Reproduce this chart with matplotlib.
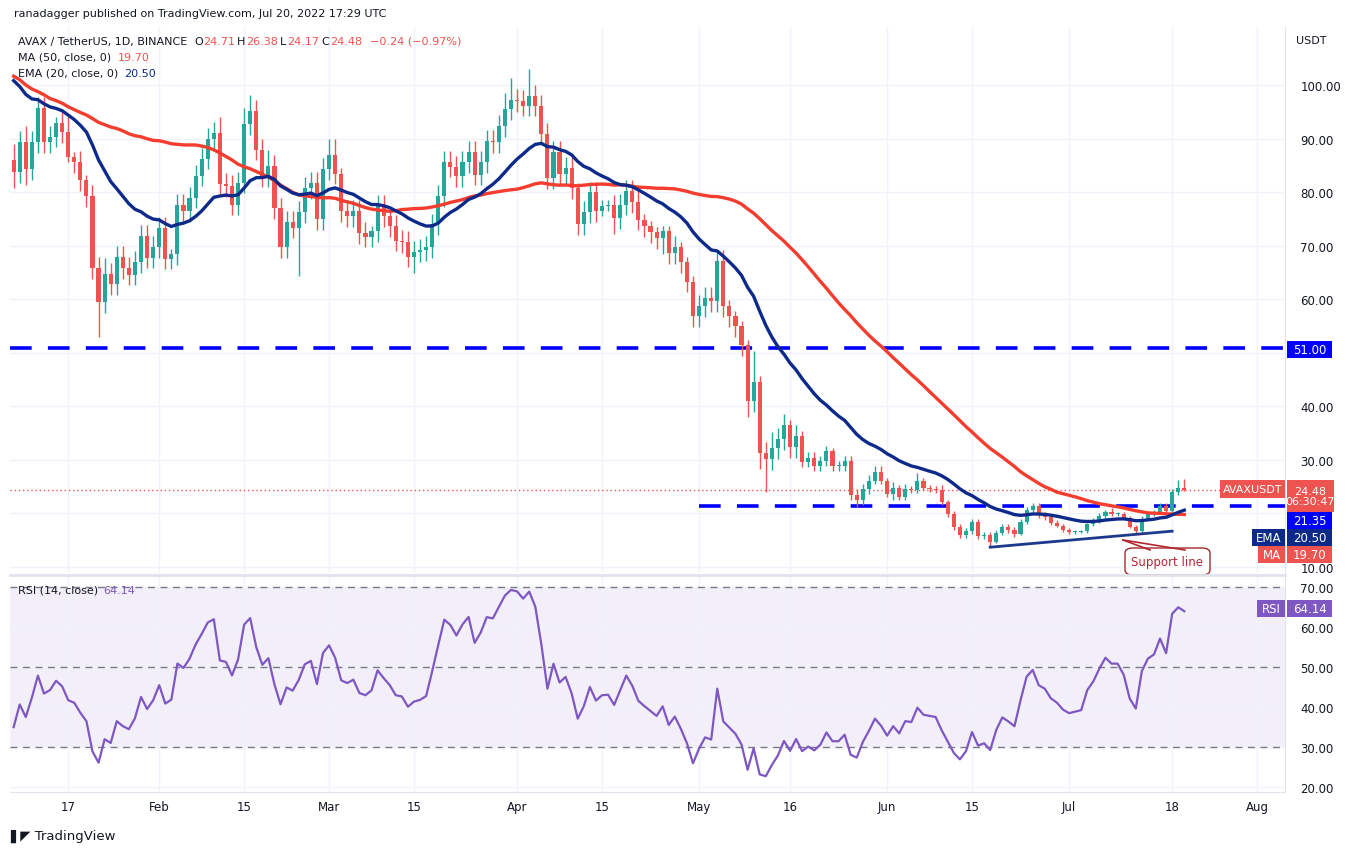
import matplotlib
matplotlib.use("Agg")
import matplotlib.pyplot as plt
from matplotlib.patches import FancyBboxPatch, Rectangle
import numpy as np

plt.rcParams["font.family"] = ["DejaVu Sans"]

# closes before the visible window (Nov 19 2021 - Jan 7 2022), used to warm up MA / EMA / RSI
pre_close = [117, 123, 133, 127, 121, 118, 126, 112, 116, 120, 112, 109,
             103, 99, 95, 86, 85, 82, 88, 92, 85, 82, 86, 85, 77, 80, 84, 83, 82, 79, 84,
             96, 103, 114, 111, 113, 111, 121, 117, 114, 113, 109, 110,
             114, 109, 107, 108, 100, 92, 86]

# daily closes Jan 8 - Jul 20 2022
close = [
    83.8, 89.4, 84.4, 89.4, 95.8, 89.4, 90.4, 93.0, 91.2, 86.6,
    85.7, 82.3, 79.3, 65.9, 59.5, 64.8, 62.9, 68.0, 65.9, 64.6,
    67.0, 71.9, 67.8, 69.8, 73.4, 67.6, 68.5, 77.7, 76.5, 79.0,
    83.1, 86.3, 90.0, 91.1, 81.6, 81.2, 77.7, 81.8, 92.8, 95.2, 88.0,
    83.0, 85.0, 77.0, 69.8, 74.5, 73.4, 76.3, 80.8, 81.8, 75.0,
    84.4, 87.0, 83.5, 76.5, 75.6, 76.5, 72.4, 71.7, 72.8, 77.5,
    75.5, 73.7, 71.0, 70.7, 68.0, 68.9, 69.2, 69.8, 74.0, 79.3,
    85.7, 84.8, 83.0, 85.7, 87.6, 83.3, 85.7, 89.6, 89.4, 92.4,
    95.6, 97.3, 97.1, 96.2, 98.0, 96.2, 91.0,
    82.7, 87.6, 83.5, 84.6, 80.8, 74.0, 76.3, 80.0, 76.5, 77.5,
    77.6, 75.2, 77.7, 80.3, 78.2, 74.9, 73.7, 72.6, 71.5, 72.8,
    68.7, 69.8, 67.0, 63.3, 56.9, 58.8, 60.3, 59.7, 67.2, 58.8,
    56.9, 55.0, 51.5, 41.0, 44.6, 31.3, 30.2, 32.2, 33.9, 36.5,
    32.4, 34.5,
    29.6, 30.4, 28.9, 29.8, 31.7, 28.9, 28.9, 29.8, 23.5, 22.5,
    24.6, 26.1, 27.8, 26.1, 23.6, 24.8, 23.1, 24.6, 24.4, 26.1,
    24.8, 24.6, 24.4, 22.1, 19.9, 17.5, 16.0, 16.7, 18.4, 15.8,
    16.0, 14.7, 16.4, 17.5, 16.9, 16.2, 18.4, 20.7, 21.4, 19.7,
    19.3, 18.2, 17.7, 16.9, 16.5, 16.6, 16.7, 18.0, 18.6, 19.5,
    20.3, 19.9, 19.9, 19.2, 17.5, 16.7, 19.0, 19.9, 20.2, 21.4,
    20.5, 24.0, 24.71, 24.48,
]

# wick lengths above / below the body
upper_wick = [
    3, 2, 3, 2, 2, 2, 2, 1, 2, 3, 1, 2, 1, 2, 2, 3, 2, 2, 2, 2,
    2, 2, 2, 2, 2, 2, 1, 2, 2, 2, 2, 2, 2, 2, 3, 2, 2, 2, 3, 3, 2,
    2, 3, 2, 2, 2, 2, 2, 2, 2, 2, 2, 3, 3, 1, 2, 2, 2, 2, 1, 2,
    2, 1, 2, 2, 2, 2, 2, 2, 2, 2, 2, 2, 2, 2, 2, 2, 2, 2, 2, 2,
    3, 4, 2, 2, 5, 2, 2,
    2, 2, 2, 2, 2, 1, 2, 2, 2, 1, 1, 2, 2, 2, 2, 2, 1, 1, 1, 1,
    1, 2, 1, 1, 1, 2, 2, 2, 2, 2, 1, 1, 1, 1, 5.8, 1, 2, 3, 2, 2, 1, 2,
    1, 1, 1, 1, 1, 0.5, 1, 1, 1, 1, 1, 1, 1, 1, 0.5, 1, 0.5, 1, 0.5, 1.5,
    0.5, 0.5, 0.5, 1, 0.5, 0.5, 0.5, 0.5, 0.5, 0.5, 0.5, 0.5, 0.5, 0.5, 0.5, 0.5, 0.5, 0.5, 0.5, 0.5,
    0.5, 0.3, 0.5, 0.3, 0.3, 0.3, 0.3, 0.3, 0.5, 0.5, 0.3, 0.8, 0.3, 0.3, 0.3, 0.3, 0.5, 0.3, 0.5, 0.5,
    0.5, 0.5, 1.5, 1.67,
]
lower_wick = [
    3, 2, 3, 2, 2, 2, 2, 2, 2, 1, 2, 2, 2, 2, 6.6, 2, 2, 2, 2, 2,
    2, 2, 2, 2, 2, 2, 2, 2, 2, 2, 2, 2, 2, 2, 2, 2, 2, 2, 2, 2, 2,
    2, 2, 2, 2, 2, 2, 9, 2, 2, 2, 2, 2, 2, 2, 2, 2, 2, 2, 2, 2,
    2, 2, 2, 2, 2, 3, 2, 2, 2, 2, 2, 2, 2, 2, 2, 2, 2, 2, 2, 2,
    2, 2, 2, 2, 2, 2, 2,
    2, 2, 2, 2, 2, 2, 2, 2, 2, 1, 1, 3, 2, 2, 2, 2, 2, 2, 2, 3,
    2, 2, 2, 2, 2, 2, 2, 2, 2, 2, 2, 2, 2, 3, 2, 3, 6.2, 2, 2, 2, 2, 2,
    1, 1, 1, 1, 1, 1, 1, 1, 1, 1.2, 1, 1, 0.5, 0.5, 0.5, 1, 0.5, 0.5, 0.5, 0.5,
    0.5, 0.5, 0.5, 0.5, 0.5, 0.5, 0.5, 0.5, 0.5, 0.5, 0.5, 0.8, 0.3, 0.5, 0.5, 0.5, 0.3, 0.3, 0.5, 0.5,
    0.5, 0.3, 0.3, 0.3, 0.3, 0.3, 0.3, 0.3, 0.3, 0.3, 0.3, 0.3, 0.3, 0.3, 0.3, 0.5, 0.3, 0.3, 0.3, 0.3,
    0.3, 0.3, 0.5, 0.31,
]

date_ticks = [9, 24, 38, 52, 66, 83, 97, 113, 128, 144, 158, 174, 191, 205]
date_labels = ["17", "Feb", "15", "Mar", "15", "Apr", "15", "May", "16", "Jun", "15", "Jul", "18", "Aug"]
price_grid = [10, 20, 30, 40, 50, 60, 70, 80, 90, 100]
price_labels = ["10.00", "", "30.00", "40.00", "", "60.00", "70.00", "80.00", "90.00", "100.00"]
rsi_ticks = [20, 30, 40, 50, 60, 70]
resistance = 51.0
support_flat = 21.35
support_line_x = [161, 191]
support_line_y = [13.7, 16.7]

GREEN = "#26a69a"
RED = "#ef5350"
NAVY = "#0d2a8a"
MARED = "#f23d2f"
BLUE = "#0000ff"
PURPLE = "#7e57c2"
TXT = "#131722"

allc = np.array(pre_close + close, dtype=float)
n_pre = len(pre_close)
c = np.array(close)
o = allc[n_pre - 1:-1]
hi = np.maximum(o, c) + np.array(upper_wick)
lo = np.minimum(o, c) - np.array(lower_wick)
idx = np.arange(len(c))

ma = np.convolve(allc, np.ones(50) / 50, mode="full")[:len(allc)]
ma[:49] = np.nan
ema = np.zeros_like(allc)
ema[0] = allc[0]
k = 2 / 21
for i in range(1, len(allc)):
    ema[i] = allc[i] * k + ema[i - 1] * (1 - k)
d = np.diff(allc)
gain = np.where(d > 0, d, 0)
loss = np.where(d < 0, -d, 0)
ag, al = gain[:14].mean(), loss[:14].mean()
rsi = np.full(len(allc), np.nan)
for i in range(14, len(d)):
    ag = (ag * 13 + gain[i]) / 14
    al = (al * 13 + loss[i]) / 14
    rsi[i + 1] = 100 - 100 / (1 + ag / al)
ma, ema, rsi = ma[n_pre:], ema[n_pre:], rsi[n_pre:]

W, H = 1364, 854
fig = plt.figure(figsize=(W / 100, H / 100), dpi=100)
fig.patch.set_facecolor("white")


def fx(px):
    return px / W


def fy(py):
    return 1 - py / H


ax = fig.add_axes([fx(10), fy(574), fx(1275), (574 - 28) / H])
ax2 = fig.add_axes([fx(10), fy(793), fx(1275), (793 - 577) / H], sharex=ax)
xlim = (-0.6, 209.6)

up = c >= o
cols = np.where(up, GREEN, RED)
ax.vlines(idx, lo, hi, colors=cols, lw=1, zorder=3)
ax.bar(idx, np.maximum(np.abs(c - o), 0.15), bottom=np.minimum(o, c), width=0.68, color=cols, zorder=4)
ax.plot(idx, ma, color=MARED, lw=2.4, zorder=5)
ax.plot(idx, ema, color=NAVY, lw=2.4, zorder=5)
ax.axhline(resistance, color=BLUE, lw=2.6, dashes=(6, 4.5), zorder=2)
ax.plot([113, xlim[1]], [support_flat, support_flat], color=BLUE, lw=2.6, dashes=(6, 4.5), zorder=2)
ax.plot(support_line_x, support_line_y, color="#1b3a8c", lw=2, zorder=6)
ax.axhline(c[-1], color=RED, lw=1, ls=(0, (1, 2)), zorder=2)

ax.set_xlim(*xlim)
ax.set_ylim(8.88, 110.9)
ax.set_yticks(price_grid)
ax.yaxis.tick_right()
ax.tick_params(axis="y", length=0, labelsize=8.5, labelcolor=TXT, pad=11)
ax.set_yticklabels(price_labels)
ax.tick_params(axis="x", length=0, labelbottom=False)
ax.set_xticks(date_ticks)
ax.grid(True, color="#f0f3fa", lw=1)
for s in ["top", "left", "bottom"]:
    ax.spines[s].set_visible(False)
ax.spines["right"].set_color("#e0e3eb")

# RSI panel
ax2.axhspan(30, 70, color=PURPLE, alpha=0.09, lw=0)
for lv in [70, 50, 30]:
    ax2.axhline(lv, color="#787b86", lw=1, dashes=(5, 4))
ax2.plot(idx, rsi, color=PURPLE, lw=1.6)
ax2.set_ylim(18.75, 72.75)
ax2.set_yticks(rsi_ticks)
ax2.yaxis.tick_right()
ax2.set_yticklabels([f"{v:.2f}" for v in rsi_ticks])
ax2.tick_params(axis="y", length=0, labelsize=8.5, labelcolor=TXT, pad=11)
ax2.set_xticks(date_ticks)
ax2.set_xticklabels(date_labels)
ax2.tick_params(axis="x", length=0, labelsize=8.5, labelcolor=TXT, pad=6)
ax2.grid(True, color="#f0f3fa", lw=1)
for s in ["top", "left"]:
    ax2.spines[s].set_visible(False)
ax2.spines["right"].set_color("#e0e3eb")
ax2.spines["bottom"].set_color("#e0e3eb")
fig.add_artist(plt.Line2D([fx(10), fx(1285)], [fy(575.5), fy(575.5)], color="#e0e3eb", lw=2))


def tag(x0, x1, y0, y1, txt, bg, size=8.5):
    # label box in figure pixels
    fig.patches.append(Rectangle((fx(x0), fy(y1)), fx(x1 - x0), (y1 - y0) / H, fc=bg, ec="none",
                                 transform=fig.transFigure, figure=fig, zorder=20))
    fig.text(fx((x0 + x1) / 2), fy((y0 + y1) / 2), txt, ha="center", va="center", fontsize=size,
             color="white", zorder=21, linespacing=1.1)


tag(1287, 1332, 342, 359, "51.00", BLUE)
tag(1220, 1285, 481, 499, "AVAXUSDT", RED, size=8)
tag(1287, 1334, 481, 513, "24.48\n06:30:47", RED, size=8)
tag(1287, 1332, 513, 530, "21.35", BLUE)
tag(1252, 1285, 530, 547, "EMA", NAVY)
tag(1287, 1332, 530, 547, "20.50", NAVY)
tag(1258, 1285, 547, 564, "MA", RED)
tag(1287, 1332, 547, 564, "19.70", RED)
tag(1257, 1285, 601, 618, "RSI", PURPLE)
tag(1287, 1332, 601, 618, "64.14", PURPLE)

# support line annotation
fig.add_artist(plt.Line2D([fx(1123), fx(1185)], [fy(541), fy(551)], color="#b22833", lw=1.2))
fig.add_artist(plt.Line2D([fx(1123), fx(1150)], [fy(541), fy(551)], color="#b22833", lw=1.2))
fig.patches.append(FancyBboxPatch((fx(1125), fy(576)), fx(85), (576 - 549) / H,
                                  boxstyle="round,pad=0,rounding_size=0.006", fc="white",
                                  ec="#a52a2a", lw=1, transform=fig.transFigure, figure=fig))
fig.text(fx(1167), fy(563), "Support line", ha="center", va="center", fontsize=8.5, color="#b22833")

# header texts
fig.text(fx(14), fy(14), "ranadagger published on TradingView.com, Jul 20, 2022 17:29 UTC",
         fontsize=8, color=TXT, va="center")
fig.text(fx(1296), fy(41), "USDT", fontsize=8, color=TXT, va="center")
parts = [(18, "AVAX / TetherUS, 1D, BINANCE", TXT), (194, "O", TXT), (203, "24.71", RED),
         (237, "H", TXT), (246, "26.38", RED), (280, "L", TXT), (287, "24.17", RED),
         (321, "C", TXT), (330, "24.48", RED), (370, "\u22120.24 (\u22120.97%)", RED)]
for px, t, col in parts:
    fig.text(fx(px), fy(42), t, fontsize=8, color=col, va="center")
fig.text(fx(18), fy(58), "MA (50, close, 0)", fontsize=8, color=TXT, va="center")
fig.text(fx(118), fy(58), "19.70", fontsize=8, color=RED, va="center")
fig.text(fx(18), fy(74), "EMA (20, close, 0)", fontsize=8, color=TXT, va="center")
fig.text(fx(124), fy(74), "20.50", fontsize=8, color=NAVY, va="center")
fig.text(fx(18), fy(591), "RSI (14, close)", fontsize=8, color=TXT, va="center")
fig.text(fx(103), fy(591), "64.14", fontsize=8, color=PURPLE, va="center")
fig.text(fx(10), fy(836), "\u258c\u25e4 TradingView", fontsize=9.5, color=TXT, va="center")

fig.savefig("out.png", dpi=100, facecolor="white")
